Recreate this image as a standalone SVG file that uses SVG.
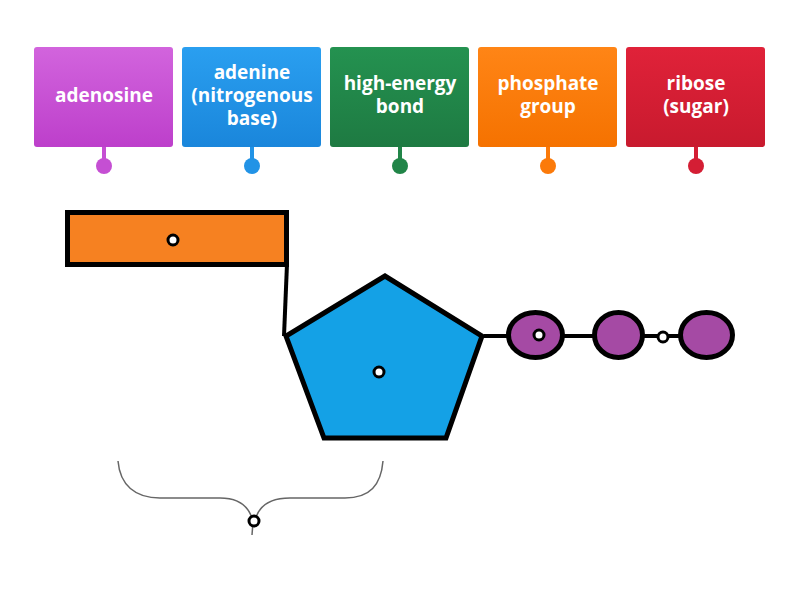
<svg xmlns="http://www.w3.org/2000/svg" width="800" height="600" viewBox="0 0 800 600">
<style>
.lbl{font-family:"Open Sans","Liberation Sans",sans-serif;font-weight:bold;font-size:19px;fill:#ffffff;text-anchor:middle}
.stem{stroke-width:4}
.shape{stroke:#000;stroke-width:5;stroke-linejoin:miter}
.hole{fill:#fff;stroke:#000;stroke-width:3}
.conn{stroke:#000;stroke-width:4;fill:none}
.brace{stroke:#666;stroke-width:1.5;fill:none}
</style>
<defs>
<linearGradient id="gM" x1="0" y1="0" x2="0" y2="1"><stop offset="0" stop-color="#d264dd"/><stop offset="1" stop-color="#bd3fcb"/></linearGradient>
<linearGradient id="gB" x1="0" y1="0" x2="0" y2="1"><stop offset="0" stop-color="#2a9ff0"/><stop offset="1" stop-color="#1a86db"/></linearGradient>
<linearGradient id="gG" x1="0" y1="0" x2="0" y2="1"><stop offset="0" stop-color="#249250"/><stop offset="1" stop-color="#1e7a42"/></linearGradient>
<linearGradient id="gO" x1="0" y1="0" x2="0" y2="1"><stop offset="0" stop-color="#ff8516"/><stop offset="1" stop-color="#f57200"/></linearGradient>
<linearGradient id="gR" x1="0" y1="0" x2="0" y2="1"><stop offset="0" stop-color="#e02239"/><stop offset="1" stop-color="#c81a2e"/></linearGradient>
</defs>

<g id="label-adenosine">
<rect x="34" y="47" width="139" height="100" rx="3" fill="url(#gM)"/>
<line x1="104" y1="147" x2="104" y2="166" stroke="#c54fd3" class="stem"/>
<circle cx="104" cy="166" r="8" fill="#c54fd3"/>
<text class="lbl" x="104" y="102">adenosine</text>
</g>
<g id="label-adenine">
<rect x="182" y="47" width="139" height="100" rx="3" fill="url(#gB)"/>
<line x1="252" y1="147" x2="252" y2="166" stroke="#2293e6" class="stem"/>
<circle cx="252" cy="166" r="8" fill="#2293e6"/>
<text class="lbl" x="252" y="79">adenine</text>
<text class="lbl" x="252" y="102">(nitrogenous</text>
<text class="lbl" x="252" y="125">base)</text>
</g>
<g id="label-bond">
<rect x="330" y="47" width="139" height="100" rx="3" fill="url(#gG)"/>
<line x1="400" y1="147" x2="400" y2="166" stroke="#218548" class="stem"/>
<circle cx="400" cy="166" r="8" fill="#218548"/>
<text class="lbl" x="400" y="90">high-energy</text>
<text class="lbl" x="400" y="113">bond</text>
</g>
<g id="label-phosphate">
<rect x="478" y="47" width="139" height="100" rx="3" fill="url(#gO)"/>
<line x1="548" y1="147" x2="548" y2="166" stroke="#fb7a0a" class="stem"/>
<circle cx="548" cy="166" r="8" fill="#fb7a0a"/>
<text class="lbl" x="548" y="90">phosphate</text>
<text class="lbl" x="548" y="113">group</text>
</g>
<g id="label-ribose">
<rect x="626" y="47" width="139" height="100" rx="3" fill="url(#gR)"/>
<line x1="696" y1="147" x2="696" y2="166" stroke="#d41e34" class="stem"/>
<circle cx="696" cy="166" r="8" fill="#d41e34"/>
<text class="lbl" x="696" y="90">ribose</text>
<text class="lbl" x="696" y="113">(sugar)</text>
</g>

<g id="connectors">
<line class="conn" x1="287" y1="264" x2="284" y2="336"/>
<line class="conn" x1="484" y1="336" x2="508" y2="336"/>
<line class="conn" x1="562" y1="336" x2="594" y2="336"/>
<line class="conn" x1="643" y1="336" x2="680" y2="336"/>
</g>

<g id="adenine-base">
<rect class="shape" x="67.5" y="212.5" width="219" height="52" fill="#f68121"/>
<circle class="hole" cx="173" cy="240" r="5"/>
</g>
<g id="ribose-sugar">
<polygon class="shape" points="385,276 286,336 324,438 446,438 482,336" fill="#14a1e6"/>
<circle class="hole" cx="379" cy="372" r="5"/>
</g>
<g id="phosphate-1">
<ellipse class="shape" cx="535.5" cy="335" rx="27" ry="22.5" fill="#a54aa4"/>
<circle class="hole" cx="539" cy="335" r="5"/>
</g>
<g id="phosphate-2">
<ellipse class="shape" cx="618.5" cy="335" rx="24" ry="22.5" fill="#a54aa4"/>
</g>
<g id="phosphate-3">
<ellipse class="shape" cx="706.5" cy="335" rx="26" ry="22.5" fill="#a54aa4"/>
</g>
<g id="bond-hole">
<circle class="hole" cx="663" cy="337" r="5"/>
</g>

<g id="adenosine-brace">
<path class="brace" d="M118,461 C120,485 135,498 160,498 L220,498 C240,498 250,508 253,522 L252,535 M256,517 C260,506 270,498 290,498 L345,498 C370,498 381,485 383,461"/>
<circle cx="254" cy="521" r="5" fill="#fff" stroke="#000" stroke-width="3"/>
</g>
</svg>
